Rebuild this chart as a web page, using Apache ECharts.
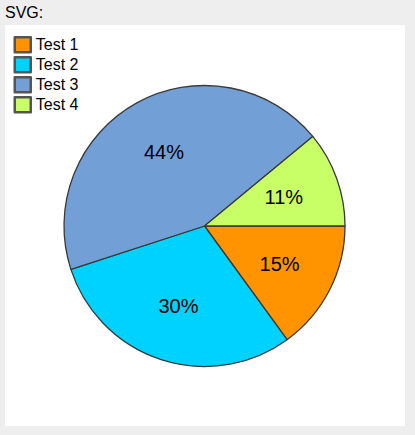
<!DOCTYPE html>
<html>
<head>
<meta charset="utf-8">
<script src="https://cdn.jsdelivr.net/npm/echarts@6/dist/echarts.min.js"></script>
<style>
  html, body { margin: 0; padding: 0; background: #eeeeee; width: 415px; height: 435px; overflow: hidden; }
  #title { position: absolute; left: 5px; top: 4px; font: 16px "Liberation Sans", Arial, sans-serif; color: #000; line-height: 18px; }
  #chart { position: absolute; left: 5px; top: 25px; width: 400px; height: 401px; background: #ffffff; }
</style>
</head>
<body>
<div id="title">SVG:</div>
<div id="chart"></div>
<script>
const categories = ["Test 1", "Test 2", "Test 3", "Test 4"];
const values = [15, 30, 44, 11];
const colors = ["#ff9400", "#00d2ff", "#729fd6", "#c8ff66"];

const data = categories.map((name, i) => ({ name: name, value: values[i], itemStyle: { color: colors[i] } }));
const labelData = categories.map((name, i) => ({ name: name, value: values[i] }));

const chart = echarts.init(document.getElementById('chart'), null, { renderer: 'svg' });
chart.setOption({
  animation: false,
  legend: {
    orient: 'vertical',
    left: 8.5,
    top: 11,
    padding: 0,
    itemWidth: 16,
    itemHeight: 15,
    itemGap: 2.5,
    icon: 'rect',
    itemStyle: { borderColor: '#555555', borderWidth: 2.5 },
    textStyle: { fontFamily: 'Liberation Sans, Arial, sans-serif', fontSize: 16, color: '#000', lineHeight: 17 },
    data: categories,
    selectedMode: false
  },
  series: [
    {
      type: 'pie',
      center: [199.5, 201],
      radius: [0, 140.5],
      startAngle: 0,
      clockwise: true,
      data: data,
      silent: true,
      label: { show: false },
      labelLine: { show: false },
      itemStyle: { borderColor: '#3a3a3a', borderWidth: 1.3 },
      emphasis: { disabled: true }
    },
    {
      type: 'pie',
      center: [199.5, 201],
      radius: [22, 140.5],
      startAngle: 0,
      clockwise: true,
      data: labelData,
      silent: true,
      itemStyle: { color: 'rgba(0,0,0,0)', borderWidth: 0 },
      label: {
        show: true,
        position: 'inside',
        formatter: (p) => p.value + '%',
        fontFamily: 'Liberation Sans, Arial, sans-serif',
        fontSize: 20,
        color: '#000'
      },
      labelLine: { show: false },
      emphasis: { disabled: true }
    }
  ]
});
</script>
</body>
</html>
